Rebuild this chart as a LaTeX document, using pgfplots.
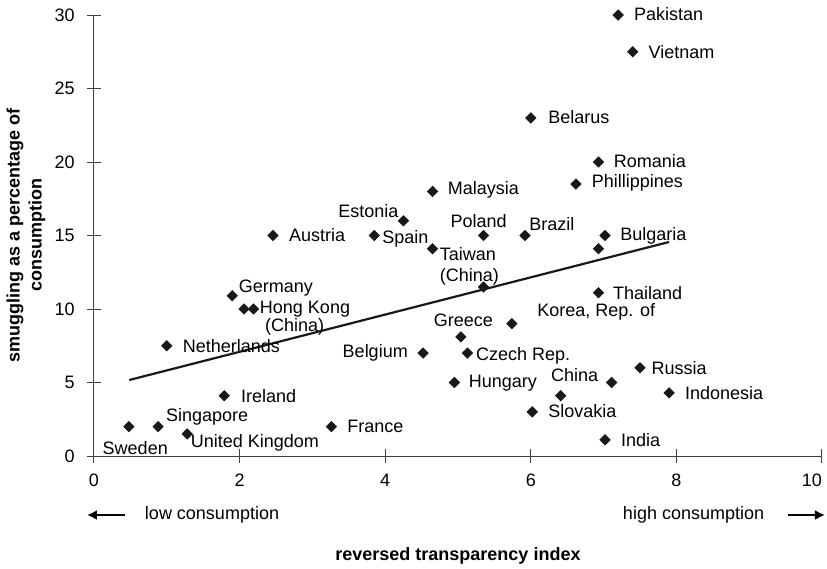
\documentclass[border=0pt]{standalone}
\usepackage{fontspec}
\setmainfont{Liberation Sans}
\usepackage{pgfplots}
\pgfplotsset{compat=1.18}
\usetikzlibrary{arrows.meta}
\tikzset{lab/.style={inner sep=0pt, outer sep=0pt, font=\fontsize{9}{11}\selectfont}}
\begin{document}
\fontsize{9}{11}\selectfont
\begin{tikzpicture}
\useasboundingbox (-47pt,-56.5pt) rectangle (366.5pt,228pt);
\begin{axis}[
  at={(0pt,0pt)}, anchor=south west,
  scale only axis, width=364pt, height=220.5pt,
  xmin=0, xmax=10, ymin=0, ymax=30,
  axis lines=left, axis line style={-, black!75, line width=0.5pt},
  xtick={0,2,4,6,8,10}, ytick={0,5,10,15,20,25,30},
  xticklabels={0,2,4,6,8,\llap{10}},
  tick align=center, major tick length=7pt,
  tick style={black!75, line width=0.5pt},
  /pgf/number format/assume math mode=true,
  ticklabel style={font=\fontsize{9}{11}\selectfont},
  yticklabel style={xshift=-3pt},
  xticklabel style={yshift=-2.5pt},
  clip=false,
]
\addplot[only marks, mark=square*, mark size=1.8pt, mark options={rotate=45, fill=black!90, draw=black!90}] coordinates {
(7.2,30) (7.4,27.5) (6.0,23) (6.93,20) (6.62,18.5) (4.65,18) (4.25,16)
(2.46,15) (3.85,15) (4.65,14.1) (5.35,15) (5.92,15) (7.02,15) (6.93,14.1)
(5.35,11.5) (6.93,11.1) (5.74,9.0) (5.04,8.1) (4.52,7.0) (5.13,7.0)
(4.95,5.0) (7.11,5.0) (6.41,4.1) (7.5,6.0) (7.9,4.3) (6.02,3.0) (7.02,1.1)
(1.9,10.9) (2.06,10) (2.19,10) (1.0,7.5) (1.79,4.1) (0.48,2.0) (0.88,2.0)
(1.28,1.5) (3.26,2.0)
};
\addplot[black!90, line width=1.1pt] coordinates {(0.485,5.17) (7.9,14.56)};
\node[lab, anchor=west] at (axis cs:7.42,30.07) {Pakistan};
\node[lab, anchor=west] at (axis cs:7.62,27.5) {Vietnam};
\node[lab, anchor=west] at (axis cs:6.24,23.06) {Belarus};
\node[lab, anchor=west] at (axis cs:7.14,20.07) {Romania};
\node[lab, anchor=west] at (axis cs:6.84,18.57) {Phillippines};
\node[lab, anchor=west] at (axis cs:4.86,18.1) {Malaysia};
\node[lab, anchor=west] at (axis cs:4.90,16.0) {Poland};
\node[lab, anchor=west] at (axis cs:5.98,15.8) {Brazil};
\node[lab, anchor=west] at (axis cs:7.23,15.0) {Bulgaria};
\node[lab, anchor=east] at (axis cs:4.18,16.67) {Estonia};
\node[lab, anchor=west] at (axis cs:2.68,15.0) {Austria};
\node[lab, anchor=west] at (axis cs:3.96,14.76) {Spain};
\node[lab, anchor=west] at (axis cs:1.99,11.4) {Germany};
\node[lab, anchor=west] at (axis cs:2.28,10.0) {Hong Kong};
\node[lab, anchor=west] at (axis cs:2.35,8.78) {(China)};
\node[lab, anchor=west] at (axis cs:1.22,7.48) {Netherlands};
\node[lab, anchor=east] at (axis cs:4.31,7.0) {Belgium};
\node[lab, anchor=west] at (axis cs:2.02,4.08) {Ireland};
\node[lab, anchor=west] at (axis cs:0.99,2.65) {Singapore};
\node[lab, anchor=west] at (axis cs:0.12,0.54) {Sweden};
\node[lab, anchor=west] at (axis cs:1.33,0.88) {United Kingdom};
\node[lab, anchor=west] at (axis cs:3.48,2.04) {France};
\node[lab, anchor=west] at (axis cs:4.75,13.74) {Taiwan};
\node[lab, anchor=west] at (axis cs:4.75,12.18) {(China)};
\node[lab, anchor=west] at (axis cs:7.13,11.09) {Thailand};
\node[lab, anchor=west] at (axis cs:6.09,9.8) {Korea, Rep. of};
\node[lab, anchor=east] at (axis cs:5.48,9.25) {Greece};
\node[lab, anchor=west] at (axis cs:5.25,6.8) {Czech Rep.};
\node[lab, anchor=west] at (axis cs:5.15,4.97) {Hungary};
\node[lab, anchor=west] at (axis cs:6.28,5.51) {China};
\node[lab, anchor=west] at (axis cs:7.66,5.99) {Russia};
\node[lab, anchor=west] at (axis cs:8.12,4.29) {Indonesia};
\node[lab, anchor=west] at (axis cs:6.24,3.06) {Slovakia};
\node[lab, anchor=west] at (axis cs:7.24,1.09) {India};
\end{axis}
\node[rotate=90, align=center, font=\fontsize{9}{11}\selectfont\bfseries, inner sep=0pt] at (-34pt,110.25pt) {smuggling as a percentage of\\consumption};
\node[font=\fontsize{9}{11}\selectfont\bfseries, inner sep=0pt] at (182pt,-50pt) {reversed transparency index};
\draw[-{Latex[length=5pt,width=5pt]}, line width=1pt] (15.5pt,-29.5pt) -- (-3.5pt,-29.5pt);
\node[lab, anchor=west] at (25.5pt,-29.5pt) {low consumption};
\node[lab, anchor=west] at (264.5pt,-29.5pt) {high consumption};
\draw[-{Latex[length=5pt,width=5pt]}, line width=1pt] (347pt,-29.5pt) -- (365.5pt,-29.5pt);
\end{tikzpicture}
\end{document}
